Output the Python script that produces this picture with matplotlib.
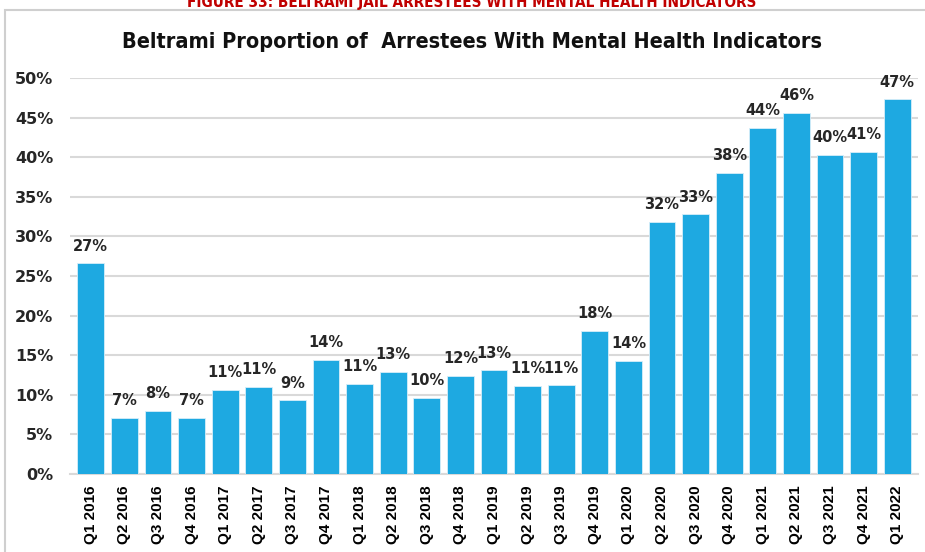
import matplotlib
matplotlib.use("Agg")
import matplotlib.pyplot as plt
from matplotlib.patches import Rectangle
from matplotlib.ticker import PercentFormatter

quarters = [
    "Q1 2016", "Q2 2016", "Q3 2016", "Q4 2016",
    "Q1 2017", "Q2 2017", "Q3 2017", "Q4 2017",
    "Q1 2018", "Q2 2018", "Q3 2018", "Q4 2018",
    "Q1 2019", "Q2 2019", "Q3 2019", "Q4 2019",
    "Q1 2020", "Q2 2020", "Q3 2020", "Q4 2020",
    "Q1 2021", "Q2 2021", "Q3 2021", "Q4 2021",
    "Q1 2022",
]
proportion = [
    26.6, 7.1, 8.0, 7.1,
    10.6, 11.0, 9.3, 14.4,
    11.4, 12.9, 9.6, 12.4,
    13.1, 11.1, 11.2, 18.1,
    14.3, 31.8, 32.8, 38.0,
    43.7, 45.6, 40.3, 40.7,
    47.3,
]
y_ticks = [0, 5, 10, 15, 20, 25, 30, 35, 40, 45, 50]

BAR_COLOR = "#1EA9E1"
GRID_COLOR = "#D9D9D9"

fig = plt.figure(figsize=(9.25, 5.52), dpi=100)

# frame of the pasted chart (cut off at right and bottom)
fig.patches.append(Rectangle((5 / 925, -0.05), 1.0, 1 - 10 / 552 + 0.05,
                             transform=fig.transFigure, fill=False,
                             edgecolor="#CFCFCF", linewidth=1.5))

# figure caption, cut off at the top edge like in the source document
fig.text(0.51, 1 - 2 / 552, "FIGURE 33: BELTRAMI JAIL ARRESTEES WITH MENTAL HEALTH INDICATORS",
         ha="center", va="center", color="#C00000", fontsize=11, fontweight="bold",
         fontstretch="condensed", family="DejaVu Sans")

fig.text(0.51, 1 - 42 / 552, "Beltrami Proportion of  Arrestees With Mental Health Indicators",
         ha="center", va="center", color="#111111", fontsize=15.5, fontweight="bold",
         fontstretch="condensed", family="DejaVu Sans")

ax = fig.add_axes([70 / 925, 1 - 474 / 552, (918 - 70) / 925, (474 - 78) / 552])

x = range(len(quarters))
ax.bar(x, proportion, width=0.8, color=BAR_COLOR, edgecolor="#D6EEF9",
       linewidth=0.6, zorder=3)

for xi, v in zip(x, proportion):
    ax.annotate(f"{round(v):d}%", (xi, v), xytext=(0, 7), textcoords="offset points",
                ha="center", va="bottom", fontsize=10.5, fontweight="bold",
                color="#262626", zorder=4)

ax.set_xlim(-0.62, len(quarters) - 0.38)
ax.set_ylim(0, 50)
ax.set_yticks(y_ticks)
ax.yaxis.set_major_formatter(PercentFormatter(decimals=0))
ax.set_xticks(list(x))
ax.set_xticklabels(quarters, rotation=90, fontsize=11, fontweight="bold",
                   family=["Liberation Sans", "DejaVu Sans"])
for lbl in ax.get_yticklabels():
    lbl.set_fontweight("bold")
    lbl.set_fontsize(11.5)
    lbl.set_color("#262626")

ax.grid(axis="y", color=GRID_COLOR, linewidth=1.5, zorder=0)
ax.tick_params(axis="both", length=0)
ax.tick_params(axis="y", pad=12)
ax.tick_params(axis="x", pad=8)
for side in ["top", "right", "left"]:
    ax.spines[side].set_visible(False)
ax.spines["bottom"].set_color(GRID_COLOR)
ax.spines["bottom"].set_linewidth(1.5)

fig.savefig("out.png", dpi=100)
